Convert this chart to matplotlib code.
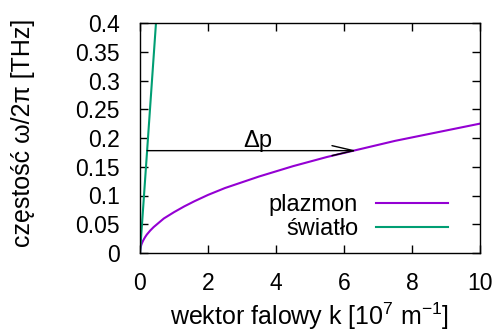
import matplotlib
matplotlib.use("Agg")
import matplotlib.pyplot as plt

plt.rcParams['font.family'] = ['Liberation Sans', 'DejaVu Sans']
plt.rcParams['mathtext.fontset'] = 'custom'
plt.rcParams['mathtext.rm'] = 'Liberation Sans'
plt.rcParams['mathtext.it'] = 'Liberation Sans'
plt.rcParams['mathtext.default'] = 'regular'

# plasmon dispersion
k_plasmon = [0, 0.002, 0.005, 0.01, 0.02, 0.035, 0.05, 0.075, 0.1, 0.15, 0.2, 0.3, 0.4, 0.5,
             0.7, 1.0, 1.3, 1.6, 2.0, 2.5, 3.0, 3.5, 4.0, 4.5, 5.0, 5.5, 6.0, 6.5, 7.0,
             7.5, 8.0, 8.5, 9.0, 9.5, 10.0]
f_plasmon = [0, 0.0032, 0.005, 0.0071, 0.010, 0.0133, 0.016, 0.0195, 0.0225, 0.0276,
             0.032, 0.039, 0.045, 0.050, 0.060, 0.071, 0.081, 0.090, 0.101, 0.113,
             0.123, 0.133, 0.142, 0.151, 0.159, 0.167, 0.174, 0.181, 0.188, 0.195,
             0.201, 0.207, 0.213, 0.219, 0.225]
# light line
k_light = [0, 0.5]
f_light = [0, 0.4255]
# arrow (momentum difference)
arrow_y = 0.178
arrow_k_start = 0.21
arrow_k_end = 6.37
label_k = 3.46
label_f = 0.1848

xticks = [0, 2, 4, 6, 8, 10]
yticks = [0, 0.05, 0.1, 0.15, 0.2, 0.25, 0.3, 0.35, 0.4]
ytick_labels = ['0', '0.05', '0.1', '0.15', '0.2', '0.25', '0.3', '0.35', '0.4']

TICK_FS = 16.5
LEG_FS = 17
LAB_FS = 18
fig = plt.figure(figsize=(4.96, 3.31), dpi=100)
ax = fig.add_axes([140/496, 1-253/331, 340/496, 230/331])

ax.plot(k_plasmon, f_plasmon, color='#9400D3', lw=1.5, label='plazmon')
ax.plot(k_light, f_light, color='#009E73', lw=1.5, label='światło')

ax.annotate('', xy=(arrow_k_end, arrow_y), xytext=(arrow_k_start, arrow_y),
            arrowprops=dict(arrowstyle='->,head_length=1.55,head_width=0.36', color='black', lw=1.0,
                            shrinkA=0, shrinkB=0))
ax.text(label_k, label_f, 'Δp', fontsize=LEG_FS, ha='center', va='baseline')

ax.set_xlim(0, 10)
ax.set_ylim(0, 0.4)
ax.set_xticks(xticks)
ax.set_yticks(yticks)
ax.set_yticklabels(ytick_labels)
ax.tick_params(direction='in', top=True, right=True, length=6, width=1, labelsize=TICK_FS)
ax.tick_params(axis='y', pad=14.5)
ax.tick_params(axis='x', pad=13.5)
for s in ax.spines.values():
    s.set_linewidth(1.0)

fig.text(310/496, 1-325/331, 'wektor falowy k [10$^{7}$ m$^{-1}$]', fontsize=LAB_FS,
         ha='center', va='baseline')
fig.text(23/496, 1-133/331, 'częstość ω/2π [THz]', fontsize=LAB_FS, rotation=90,
         ha='center', va='center')

leg = ax.legend(loc='lower right', frameon=False, markerfirst=False, fontsize=LEG_FS,
                handlelength=3.05, handletextpad=0.76, labelspacing=0.08, borderpad=0,
                borderaxespad=0, bbox_to_anchor=((448-140)/340, (253-240.3)/230))

fig.savefig('out.png', dpi=100)
